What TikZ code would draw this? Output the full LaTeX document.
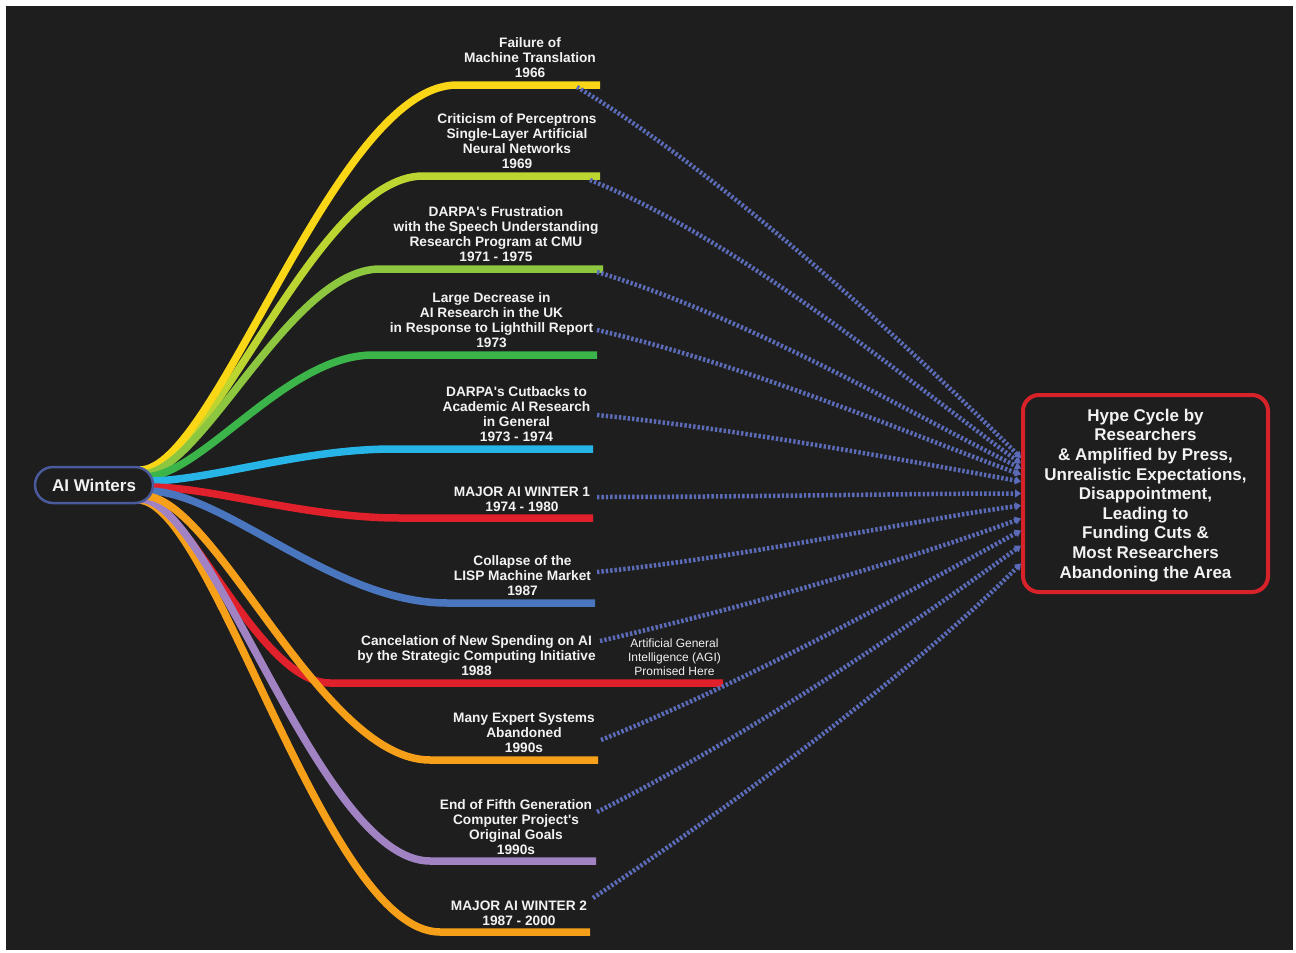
\documentclass[tikz,border=0pt]{standalone}
\usepackage{fontspec}
\setmainfont{Liberation Sans}
\usetikzlibrary{arrows.meta,calc}
\definecolor{bg}{HTML}{1E1E1E}
\definecolor{txt}{HTML}{F2F2F2}
\definecolor{cYel}{HTML}{F9D616}
\definecolor{cYgr}{HTML}{BCD531}
\definecolor{cGrn}{HTML}{8DC63F}
\definecolor{cGrt}{HTML}{3BB54A}
\definecolor{cCya}{HTML}{27B5E8}
\definecolor{cRed}{HTML}{E0202A}
\definecolor{cBlu}{HTML}{4A76C0}
\definecolor{cOra}{HTML}{F6A01A}
\definecolor{cLav}{HTML}{A183C4}
\definecolor{cDot}{HTML}{5B6BB8}
\definecolor{cHub}{HTML}{4B5A9C}
\definecolor{cBox}{HTML}{D7222A}
\tikzset{
  branch/.style={line width=7.5pt},
  lbl/.style={text=txt,font=\bfseries\fontsize{13.7}{15}\selectfont,align=center,anchor=base,inner sep=0pt},
  agi/.style={text=txt,font=\fontsize{12}{14}\selectfont,align=center,anchor=base,inner sep=0pt},
  dotline/.style={cDot,line width=4.5pt,dash pattern=on 2.4pt off 2pt,-{Triangle[length=6pt,width=8pt]}},
}
\begin{document}
\begin{tikzpicture}[x=1pt,y=-1pt]
\useasboundingbox (0,0) rectangle (1296,953);
\fill[white] (0,0) rectangle (1296,953);
\fill[bg] (6,6) rectangle (1293,950);
% box
\node[draw=cBox,line width=4pt,fill=bg,rounded corners=16pt,minimum width=245pt,minimum height=197pt,inner sep=0pt] (box) at (1145.5,493.5) {};
\node[text=txt,font=\bfseries\fontsize{17}{19.6}\selectfont,align=center,anchor=base,inner sep=0pt] (boxtxt) at (1145.5,578) {Hype Cycle by\\Researchers\\\& Amplified by Press,\\Unrealistic Expectations,\\Disappointment,\\Leading to\\Funding Cuts \&\\Most Researchers\\Abandoning the Area};
% start coordinates
\coordinate (s1) at (140,470);
\coordinate (s2) at (140,472);
\coordinate (s3) at (142,474);
\coordinate (s4) at (144,477);
\coordinate (s5) at (148,481);
\coordinate (s6) at (150,487);
\coordinate (s7) at (148,491);
\coordinate (s8) at (140,498);
\coordinate (s9) at (144,496);
\coordinate (s10) at (140,499);
\coordinate (s11) at (138,500);
% horizontal starts
\coordinate (h1) at (457,85);
\coordinate (h2) at (423,176);
\coordinate (h3) at (380,269);
\coordinate (h4) at (373,355);
\coordinate (h5) at (393,449);
\coordinate (h6) at (400,518);
\coordinate (h7) at (447,603);
\coordinate (h8) at (330,683);
\coordinate (h9) at (430,760);
\coordinate (h10) at (430,861);
\coordinate (h11) at (440,932);
% ends
\coordinate (e1) at (600,85);
\coordinate (e2) at (600,176);
\coordinate (e3) at (603,269);
\coordinate (e4) at (597,355);
\coordinate (e5) at (593,449);
\coordinate (e6) at (593,518);
\coordinate (e7) at (595,603);
\coordinate (e8) at (723,683);
\coordinate (e9) at (598,760);
\coordinate (e10) at (596,861);
\coordinate (e11) at (590,932);
% branches (back to front)
\draw[branch,cRed] (s8) .. controls +(47,0) and +(-72,0) .. (h8) -- (e8);
\draw[branch,cYgr] (s2) .. controls +(71,0) and +(-107,0) .. (h2) -- (e2);
\draw[branch,cYel] (s1) .. controls +(76,0) and +(-122,0) .. (h1) -- (e1);
\draw[branch,cGrn] (s3) .. controls +(60,0) and +(-90,0) .. (h3) -- (e3);
\draw[branch,cGrt] (s4) .. controls +(57,0) and +(-87,0) .. (h4) -- (e4);
\draw[branch,cCya] (s5) .. controls +(61,0) and +(-93,0) .. (h5) -- (e5);
\draw[branch,cRed] (s6) .. controls +(62,0) and +(-95,0) .. (h6) -- (e6);
\draw[branch,cBlu] (s7) .. controls +(75,0) and +(-114,0) .. (h7) -- (e7);
\draw[branch,cOra] (s11) .. controls +(75,0) and +(-115,0) .. (h11) -- (e11);
\draw[branch,cLav] (s10) .. controls +(72,0) and +(-110,0) .. (h10) -- (e10);
\draw[branch,cOra] (s9) .. controls +(71,0) and +(-109,0) .. (h9) -- (e9);
% hub on top
\node[draw=cHub,line width=2.5pt,fill=bg,rounded corners=18pt,minimum width=118pt,minimum height=36pt,inner sep=0pt,text=txt,font=\bfseries\fontsize{17}{20}\selectfont] (hub) at (94,485) {AI Winters};
% labels (anchor = baseline of last line)
\node[lbl] (l1) at (530,77) {Failure of\\Machine Translation\\1966};
\node[lbl] (l2) at (517,168) {Criticism of Perceptrons\\Single-Layer Artificial\\Neural Networks\\1969};
\node[lbl] (l3) at (496,261) {DARPA\textquotesingle s Frustration\\with the Speech Understanding\\Research Program at CMU\\1971 - 1975};
\node[lbl] (l4) at (491.5,347) {Large Decrease in\\AI Research in the UK\\in Response to Lighthill Report\\1973};
\node[lbl] (l5) at (516.5,441) {DARPA\textquotesingle s Cutbacks to\\Academic AI Research\\in General\\1973 - 1974};
\node[lbl] (l6) at (522,511) {MAJOR AI WINTER 1\\1974 - 1980};
\node[lbl] (l7) at (522.5,595) {Collapse of the\\LISP Machine Market\\1987};
\node[lbl] (l8) at (476.5,675) {Cancelation of New Spending on AI\\by the Strategic Computing Initiative\\1988};
\node[lbl] (l9) at (524,752) {Many Expert Systems\\Abandoned\\1990s};
\node[lbl] (l10) at (516,854) {End of Fifth Generation\\Computer Project\textquotesingle s\\Original Goals\\1990s};
\node[lbl] (l11) at (519,925) {MAJOR AI WINTER 2\\1987 - 2000};
\node[agi] (agi) at (674.5,675) {Artificial General\\Intelligence (AGI)\\Promised Here};
% dotted connectors
\coordinate (d1) at (577,87);
\coordinate (d2) at (590,180);
\coordinate (d3) at (597,272);
\coordinate (d4) at (597,330);
\coordinate (d5) at (597,415);
\coordinate (d6) at (597,497);
\coordinate (d7) at (597,572);
\coordinate (d8) at (600,641);
\coordinate (d9) at (601,740);
\coordinate (d10) at (597,812);
\coordinate (d11) at (593,898);
\draw[dotline] (d1) .. controls +(150,90) and +(-110,-110) .. ($(box.west)+(0,-35.5)$);
\draw[dotline] (d2) .. controls +(150,60) and +(-110,-80) .. ($(box.west)+(0,-30)$);
\draw[dotline] (d3) .. controls +(150,45) and +(-110,-55) .. ($(box.west)+(0,-25)$);
\draw[dotline] (d4) .. controls +(150,35) and +(-110,-40) .. ($(box.west)+(0,-19)$);
\draw[dotline] (d5) .. controls +(150,15) and +(-110,-20) .. ($(box.west)+(0,-12)$);
\draw[dotline] (d6) .. controls +(150,0) and +(-110,0) .. ($(box.west)+(0,0)$);
\draw[dotline] (d7) .. controls +(150,-15) and +(-110,15) .. ($(box.west)+(0,12)$);
\draw[dotline] (d8) .. controls +(150,-35) and +(-110,40) .. ($(box.west)+(0,25)$);
\draw[dotline] (d9) .. controls +(150,-60) and +(-110,60) .. ($(box.west)+(0,37)$);
\draw[dotline] (d10) .. controls +(150,-75) and +(-110,80) .. ($(box.west)+(0,52)$);
\draw[dotline] (d11) .. controls +(150,-100) and +(-110,110) .. ($(box.west)+(0,70)$);
\end{tikzpicture}
\end{document}
